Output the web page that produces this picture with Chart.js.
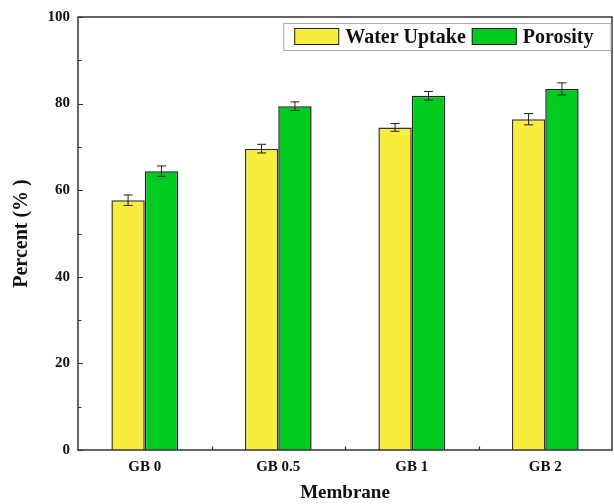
<!DOCTYPE html>
<html>
<head>
<meta charset="utf-8">
<script src="https://cdn.jsdelivr.net/npm/chart.js@4"></script>
<style>
    html, body { margin: 0; padding: 0; background: #fff; }
    #wrap { width: 614px; height: 504px; }
</style>
</head>
<body>
<div id="wrap"><canvas id="membraneChart" width="614" height="504"></canvas></div>
<script>
const membranes = ['GB 0', 'GB 0.5', 'GB 1', 'GB 2']
const waterUptake = [57.7, 69.6, 74.5, 76.4]
const waterUptakeErr = [1.2, 1.0, 0.9, 1.3]
const porosity = [64.4, 79.4, 81.8, 83.4]
const porosityErr = [1.2, 1.0, 1.0, 1.4]
const yTicks = [0, 20, 40, 60, 80, 100]

const serif = "'Liberation Serif', 'Times New Roman', serif"
const errors = [waterUptakeErr, porosityErr]

// frame, inward ticks, error bars and boxed legend
const decorations = {
    id: 'decorations',
    afterDatasetsDraw(chart) {
        const { ctx, scales: { y } } = chart
        ctx.save()
        ctx.strokeStyle = '#222'
        ctx.lineWidth = 1
        chart.data.datasets.forEach((ds, di) => {
            const meta = chart.getDatasetMeta(di)
            meta.data.forEach((bar, i) => {
                const hi = y.getPixelForValue(ds.data[i] + errors[di][i])
                const lo = y.getPixelForValue(ds.data[i] - errors[di][i])
                ctx.beginPath()
                ctx.moveTo(bar.x, hi); ctx.lineTo(bar.x, lo)
                ctx.moveTo(bar.x - 4.5, hi); ctx.lineTo(bar.x + 4.5, hi)
                ctx.moveTo(bar.x - 4.5, lo); ctx.lineTo(bar.x + 4.5, lo)
                ctx.stroke()
            })
        })
        ctx.restore()
    },
    afterDraw(chart) {
        const { ctx, chartArea: { left, right, top, bottom }, scales: { x, y } } = chart
        ctx.save()
        ctx.strokeStyle = '#333'
        ctx.lineWidth = 1.5
        ctx.strokeRect(left, top, right - left, bottom - top)

        ctx.lineWidth = 1.2
        ctx.beginPath()
        y.ticks.forEach(t => {
            const py = Math.round(y.getPixelForValue(t.value)) + 0.5
            const len = t.value % 20 === 0 ? 5 : 3.5
            ctx.moveTo(left, py); ctx.lineTo(left + len, py)
        })
        const half = (x.getPixelForValue(1) - x.getPixelForValue(0)) / 2
        for (let i = 0; i < membranes.length - 1; i++) {
            const px = Math.round(x.getPixelForValue(i) + half) + 0.5
            ctx.moveTo(px, bottom); ctx.lineTo(px, bottom - 3.5)
        }
        ctx.stroke()

        // legend
        ctx.font = 'bold 20px ' + serif
        ctx.textBaseline = 'middle'
        const sw = 45, sh = 17, gap = 6, padL = 11, padR = 17
        const items = chart.data.datasets.map(ds => ({
            label: ds.label, color: ds.backgroundColor, w: ctx.measureText(ds.label).width
        }))
        let total = padL + padR
        items.forEach((it, i) => { total += sw + gap + it.w + (i < items.length - 1 ? gap : 0) })
        const boxRight = right - 1.5, boxTop = top + 6, boxH = 27
        const boxLeft = boxRight - total
        ctx.strokeStyle = '#aaa'
        ctx.lineWidth = 1
        ctx.strokeRect(boxLeft + 0.5, boxTop + 0.5, total, boxH)
        let cx = boxLeft + padL
        const cy = boxTop + boxH / 2
        items.forEach(it => {
            ctx.fillStyle = it.color
            ctx.fillRect(cx, cy - sh / 2, sw, sh)
            ctx.strokeStyle = '#222'
            ctx.lineWidth = 1
            ctx.strokeRect(cx + 0.5, cy - sh / 2 + 0.5, sw - 1, sh - 1)
            ctx.fillStyle = '#111'
            ctx.textAlign = 'left'
            ctx.fillText(it.label, cx + sw + gap, cy + 1)
            cx += sw + gap + it.w + gap
        })
        ctx.restore()
    }
}

const data = {
    labels: membranes,
    datasets: [
        {
            label: 'Water Uptake',
            data: waterUptake,
            backgroundColor: '#f8ec3c',
            borderColor: '#333',
            borderWidth: 1.5,
            barPercentage: 1,
            categoryPercentage: 0.5,
        },
        {
            label: 'Porosity',
            data: porosity,
            backgroundColor: '#00cc1f',
            borderColor: '#222',
            borderWidth: 1.5,
            barPercentage: 1,
            categoryPercentage: 0.5,
        }
    ]
}

const config = {
    type: 'bar',
    data: data,
    options: {
        responsive: false,
        animation: false,
        layout: { padding: { left: 0, right: 2, top: 15, bottom: 0 } },
        scales: {
            x: {
                offset: true,
                grid: { display: false },
                border: { display: false },
                ticks: {
                    color: '#111',
                    padding: 0,
                    font: { family: serif, size: 15, weight: 'bold' }
                },
                title: {
                    display: true,
                    text: 'Membrane',
                    color: '#111',
                    padding: { top: 1, bottom: 0 },
                    font: { family: serif, size: 19, weight: 'bold' }
                },
                afterFit: (scale) => { scale.height = 54 }
            },
            y: {
                min: 0,
                max: 100,
                grid: { display: false, drawTicks: false },
                border: { display: false },
                ticks: {
                    stepSize: 10,
                    padding: 8,
                    color: '#111',
                    font: { family: serif, size: 15, weight: 'bold' },
                    callback: (v) => yTicks.includes(v) ? String(v) : ''
                },
                title: {
                    display: true,
                    text: 'Percent (% )',
                    color: '#111',
                    padding: { top: 10, bottom: 0 },
                    font: { family: serif, size: 20, weight: 'bold' }
                },
                afterFit: (scale) => { scale.width = 78 }
            }
        },
        plugins: {
            legend: { display: false },
            tooltip: { enabled: false }
        }
    },
    plugins: [decorations]
}

new Chart(document.getElementById('membraneChart'), config)
</script>
</body>
</html>
